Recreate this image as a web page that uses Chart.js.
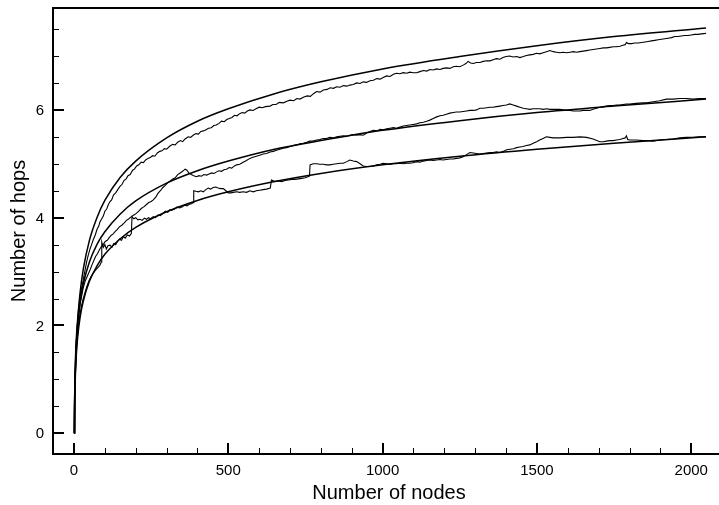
<!DOCTYPE html>
<html><head><meta charset="utf-8">
<script src="https://cdn.jsdelivr.net/npm/chart.js@4.4.0/dist/chart.umd.min.js"></script>
<style>html,body{margin:0;padding:0;background:#fff}</style>
</head><body>
<canvas id="c" width="719" height="505"></canvas>
<script>
const xTickLabels = [0, 500, 1000, 1500, 2000];
const yTickLabels = [0, 2, 4, 6];
const xAxisTitle = 'Number of nodes';
const yAxisTitle = 'Number of hops';

// smooth curves at these node counts
const smoothX   = [1, 2, 3, 5, 8, 12, 20, 30, 50, 75, 100, 150, 200, 300, 400, 500, 650, 800, 1000, 1250, 1500, 1750, 2048];
const smoothTop = [0, 0.62, 0.97, 1.42, 1.8, 2.12, 2.62, 3.04, 3.58, 4.01, 4.32, 4.75, 5.05, 5.48, 5.79, 6.02, 6.30, 6.52, 6.76, 6.99, 7.19, 7.36, 7.52];
const smoothMid = [0, 0.56, 0.89, 1.31, 1.69, 2.02, 2.44, 2.77, 3.18, 3.51, 3.74, 4.07, 4.31, 4.64, 4.87, 5.05, 5.27, 5.43, 5.62, 5.80, 5.95, 6.07, 6.20];
const smoothLow = [0, 0.50, 0.79, 1.16, 1.50, 1.79, 2.16, 2.45, 2.82, 3.11, 3.32, 3.61, 3.82, 4.11, 4.32, 4.48, 4.67, 4.82, 4.98, 5.14, 5.27, 5.38, 5.50];

// noisy curves: [nodes, hops]
const simTop = [[1,0],[2,0.55],[3,0.9],[5,1.35],[7,1.65],[10,1.95],[14,2.25],[20,2.55],[25,2.7],[30,2.85],[35,3.0],[41,3.18],[46,3.3],[52,3.42],[57,3.5],[63,3.6],[69,3.68],[75,3.79],[80,3.84],[84,3.92],[90,3.98],[95,4.03],[100,4.12],[106,4.16],[111,4.24],[117,4.3],[122,4.33],[128,4.42],[135,4.46],[142,4.52],[149,4.58],[156,4.62],[162,4.69],[169,4.72],[175,4.78],[182,4.8],[190,4.88],[196,4.9],[203,4.96],[210,4.98],[218,5.03],[225,5.02],[232,5.07],[240,5.1],[248,5.12],[255,5.15],[262,5.14],[270,5.2],[278,5.23],[285,5.24],[293,5.28],[300,5.27],[311,5.33],[320,5.36],[328,5.35],[336,5.4],[345,5.43],[352,5.41],[360,5.46],[370,5.5],[378,5.49],[386,5.53],[395,5.56],[403,5.55],[411,5.6],[419,5.61],[428,5.63],[436,5.66],[445,5.67],[453,5.71],[461,5.72],[470,5.75],[478,5.79],[487,5.78],[495,5.82],[503,5.84],[512,5.86],[520,5.9],[528,5.89],[537,5.93],[545,5.95],[553,5.94],[562,5.98],[570,6.0],[580,5.99],[590,6.02],[600,6.05],[610,6.04],[620,6.06],[635,6.07],[645,6.1],[655,6.1],[665,6.14],[678,6.13],[690,6.16],[700,6.18],[712,6.17],[722,6.21],[732,6.2],[745,6.24],[756,6.26],[766,6.25],[776,6.3],[786,6.34],[797,6.33],[808,6.37],[820,6.38],[830,6.41],[841,6.4],[851,6.43],[862,6.42],[873,6.45],[884,6.44],[894,6.46],[905,6.47],[916,6.5],[927,6.49],[937,6.52],[948,6.51],[959,6.54],[970,6.55],[981,6.58],[992,6.57],[1002,6.6],[1013,6.63],[1024,6.62],[1035,6.66],[1045,6.68],[1056,6.67],[1067,6.69],[1078,6.68],[1088,6.7],[1099,6.69],[1110,6.69],[1121,6.71],[1132,6.73],[1143,6.72],[1153,6.75],[1164,6.74],[1175,6.76],[1186,6.75],[1196,6.77],[1207,6.78],[1218,6.77],[1229,6.8],[1239,6.81],[1250,6.8],[1261,6.83],[1270,6.86],[1277,6.9],[1285,6.87],[1294,6.86],[1304,6.88],[1315,6.88],[1326,6.9],[1337,6.91],[1348,6.91],[1358,6.93],[1369,6.95],[1380,6.94],[1390,6.97],[1400,6.99],[1412,7.0],[1423,6.98],[1434,6.99],[1445,6.97],[1456,6.99],[1466,7.01],[1477,7.02],[1488,7.03],[1499,7.05],[1509,7.04],[1520,7.06],[1531,7.08],[1542,7.1],[1553,7.08],[1563,7.07],[1574,7.06],[1585,7.07],[1596,7.06],[1607,7.07],[1618,7.08],[1628,7.07],[1639,7.08],[1650,7.09],[1661,7.1],[1671,7.11],[1682,7.12],[1693,7.13],[1704,7.14],[1715,7.15],[1725,7.15],[1736,7.16],[1747,7.17],[1758,7.17],[1769,7.18],[1779,7.2],[1786,7.21],[1790,7.25],[1796,7.23],[1807,7.23],[1817,7.24],[1828,7.24],[1839,7.25],[1850,7.26],[1860,7.27],[1871,7.28],[1882,7.29],[1893,7.3],[1904,7.31],[1914,7.32],[1925,7.33],[1936,7.34],[1947,7.36],[1957,7.36],[1968,7.37],[1979,7.38],[1990,7.38],[2000,7.39],[2011,7.4],[2022,7.4],[2033,7.41],[2048,7.42]];

const simMid = [[1,0],[2,0.5],[3,0.85],[5,1.25],[7,1.55],[10,1.85],[14,2.1],[20,2.4],[25,2.55],[30,2.7],[36,2.82],[42,2.9],[48,2.98],[52,3.03],[58,3.12],[64,3.2],[70,3.28],[76,3.33],[82,3.4],[88,3.46],[95,3.5],[101,3.56],[108,3.58],[114,3.63],[120,3.67],[127,3.7],[133,3.74],[140,3.78],[147,3.83],[155,3.86],[162,3.9],[170,3.95],[178,3.98],[186,4.02],[194,4.05],[202,4.08],[210,4.12],[218,4.17],[226,4.2],[234,4.24],[242,4.28],[250,4.3],[257,4.33],[265,4.38],[272,4.45],[280,4.5],[288,4.56],[296,4.6],[304,4.65],[312,4.68],[320,4.72],[328,4.74],[336,4.8],[344,4.83],[352,4.86],[360,4.9],[366,4.88],[372,4.83],[380,4.8],[388,4.78],[397,4.76],[405,4.78],[413,4.77],[421,4.8],[430,4.79],[438,4.81],[446,4.83],[454,4.82],[462,4.85],[470,4.87],[478,4.86],[486,4.89],[494,4.9],[503,4.93],[511,4.92],[520,4.96],[527,4.98],[537,4.99],[548,5.03],[559,5.06],[570,5.1],[580,5.12],[591,5.14],[602,5.16],[613,5.18],[624,5.19],[635,5.22],[646,5.23],[656,5.25],[667,5.27],[678,5.29],[689,5.3],[700,5.32],[710,5.34],[721,5.35],[732,5.37],[743,5.38],[754,5.4],[764,5.42],[775,5.42],[786,5.44],[797,5.45],[808,5.47],[818,5.47],[829,5.49],[840,5.48],[851,5.5],[862,5.51],[873,5.52],[884,5.51],[894,5.53],[905,5.54],[916,5.53],[927,5.54],[937,5.53],[948,5.57],[959,5.6],[970,5.62],[981,5.61],[992,5.64],[1002,5.63],[1013,5.65],[1024,5.66],[1035,5.67],[1045,5.66],[1056,5.68],[1067,5.7],[1078,5.71],[1088,5.72],[1099,5.73],[1110,5.74],[1121,5.76],[1132,5.77],[1143,5.79],[1153,5.81],[1164,5.84],[1175,5.87],[1186,5.89],[1196,5.9],[1207,5.92],[1218,5.94],[1229,5.95],[1239,5.96],[1250,5.96],[1261,5.97],[1272,5.98],[1283,5.99],[1294,5.99],[1304,6.0],[1315,6.03],[1326,6.03],[1337,6.04],[1348,6.05],[1358,6.05],[1369,6.06],[1380,6.07],[1390,6.08],[1401,6.09],[1412,6.11],[1423,6.09],[1434,6.07],[1445,6.05],[1456,6.03],[1466,6.02],[1477,6.01],[1488,6.02],[1499,6.02],[1509,6.02],[1520,6.01],[1531,6.02],[1542,6.01],[1553,6.01],[1563,6.01],[1574,6.01],[1585,6.0],[1596,5.99],[1607,5.99],[1618,5.98],[1628,5.98],[1639,5.98],[1650,5.99],[1661,5.99],[1671,5.99],[1682,6.01],[1693,6.03],[1704,6.05],[1715,6.06],[1725,6.07],[1736,6.08],[1747,6.08],[1758,6.09],[1769,6.09],[1779,6.1],[1790,6.11],[1800,6.11],[1822,6.12],[1844,6.13],[1855,6.13],[1877,6.15],[1898,6.17],[1920,6.2],[1941,6.2],[1963,6.21],[1984,6.21],[2006,6.2],[2027,6.21],[2048,6.21]];

const simLow = [[1,0],[2,0.45],[3,0.78],[5,1.15],[7,1.42],[10,1.72],[14,1.98],[20,2.22],[25,2.38],[30,2.5],[36,2.62],[42,2.73],[48,2.82],[54,2.9],[60,2.95],[66,3.0],[72,3.04],[78,3.08],[84,3.12],[89,3.18],[90,3.55],[95,3.45],[100,3.5],[105,3.42],[110,3.48],[117,3.49],[123,3.45],[129,3.52],[135,3.5],[141,3.56],[147,3.6],[154,3.58],[160,3.65],[166,3.62],[173,3.68],[180,3.66],[186,3.71],[188,4.02],[194,3.98],[200,4.0],[207,3.96],[214,3.97],[221,3.95],[228,3.99],[235,3.97],[241,4.0],[248,3.98],[257,4.02],[264,4.0],[272,4.05],[280,4.04],[288,4.08],[296,4.12],[304,4.1],[311,4.15],[318,4.14],[326,4.16],[334,4.2],[342,4.18],[350,4.2],[358,4.23],[366,4.22],[374,4.25],[381,4.26],[386,4.28],[388,4.5],[395,4.49],[403,4.48],[411,4.5],[419,4.48],[427,4.52],[435,4.55],[443,4.53],[451,4.56],[459,4.57],[467,4.55],[475,4.54],[484,4.54],[492,4.5],[500,4.46],[508,4.46],[516,4.47],[527,4.48],[537,4.47],[548,4.48],[559,4.47],[570,4.5],[581,4.48],[591,4.5],[602,4.51],[613,4.52],[624,4.53],[636,4.55],[640,4.7],[651,4.67],[662,4.68],[673,4.67],[684,4.69],[695,4.7],[705,4.71],[716,4.71],[727,4.72],[738,4.73],[749,4.74],[758,4.76],[763,4.77],[765,4.98],[775,5.0],[786,5.0],[797,4.99],[808,4.99],[818,4.98],[829,4.98],[840,4.99],[851,5.0],[862,5.01],[873,5.01],[884,5.04],[894,5.07],[905,5.05],[916,5.04],[927,5.0],[937,4.96],[948,4.95],[959,4.95],[970,4.96],[981,4.98],[992,4.99],[1002,5.01],[1013,5.0],[1024,4.99],[1035,5.0],[1045,5.0],[1056,5.01],[1067,5.0],[1078,5.01],[1088,5.01],[1099,5.02],[1110,5.04],[1121,5.03],[1132,5.05],[1143,5.06],[1153,5.07],[1164,5.06],[1175,5.07],[1186,5.08],[1196,5.07],[1207,5.08],[1218,5.09],[1229,5.09],[1239,5.1],[1250,5.11],[1261,5.13],[1272,5.17],[1283,5.21],[1294,5.2],[1304,5.19],[1315,5.18],[1326,5.19],[1337,5.2],[1348,5.21],[1358,5.21],[1369,5.22],[1380,5.21],[1391,5.23],[1402,5.26],[1413,5.27],[1424,5.28],[1434,5.3],[1445,5.31],[1455,5.32],[1466,5.34],[1477,5.35],[1488,5.38],[1499,5.41],[1509,5.44],[1520,5.47],[1531,5.5],[1542,5.49],[1553,5.48],[1563,5.48],[1574,5.48],[1596,5.49],[1618,5.49],[1639,5.5],[1661,5.49],[1682,5.46],[1704,5.41],[1715,5.41],[1725,5.42],[1736,5.43],[1747,5.43],[1758,5.44],[1769,5.45],[1779,5.47],[1786,5.48],[1790,5.52],[1794,5.45],[1800,5.44],[1822,5.44],[1844,5.43],[1855,5.43],[1877,5.42],[1898,5.44],[1920,5.45],[1941,5.46],[1963,5.48],[1984,5.49],[2006,5.49],[2027,5.5],[2048,5.5]];

const pts = (xs, ys) => xs.map((v, i) => ({x: v, y: ys[i]}));
const pairs = arr => arr.map(p => ({x: p[0], y: p[1]}));
const FONT = "'Liberation Sans', Arial, Helvetica, sans-serif";

const framePlugin = {
  id: 'frame',
  afterDraw(chart) {
    const {ctx, chartArea: a, scales: {x, y}} = chart;
    ctx.save();
    ctx.strokeStyle = '#000';
    ctx.fillStyle = '#000';
    ctx.lineWidth = 2;
    ctx.beginPath();
    ctx.moveTo(a.right, a.top); ctx.lineTo(a.left, a.top);
    ctx.lineTo(a.left, a.bottom); ctx.lineTo(a.right, a.bottom);
    ctx.stroke();
    for (let v = 0; v <= x.max; v += 100) {
      const major = xTickLabels.includes(v);
      const px = Math.round(x.getPixelForValue(v)) + (major ? 0 : 0.5);
      ctx.lineWidth = major ? 2 : 1;
      ctx.beginPath();
      ctx.moveTo(px, a.bottom);
      ctx.lineTo(px, a.bottom - (major ? 11 : 6));
      ctx.stroke();
    }
    for (let v = 0; v <= y.max; v += 0.5) {
      const major = yTickLabels.includes(v);
      const py = Math.round(y.getPixelForValue(v)) + (major ? 0 : 0.5);
      ctx.lineWidth = major ? 2 : 1;
      ctx.beginPath();
      ctx.moveTo(a.left, py);
      ctx.lineTo(a.left + (major ? 11 : 6), py);
      ctx.stroke();
    }
    ctx.font = '15px ' + FONT;
    ctx.textAlign = 'center';
    ctx.textBaseline = 'middle';
    xTickLabels.forEach(v => ctx.fillText(String(v), x.getPixelForValue(v), 471));
    ctx.textAlign = 'right';
    yTickLabels.forEach(v => ctx.fillText(String(v), 44, y.getPixelForValue(v) + 1));
    ctx.font = '20px ' + FONT;
    ctx.textAlign = 'center';
    ctx.fillText(xAxisTitle, (a.left + a.right) / 2 + 3, 493);
    ctx.translate(19, (a.top + a.bottom) / 2);
    ctx.rotate(-Math.PI / 2);
    ctx.fillText(yAxisTitle, 0, 0);
    ctx.restore();
  }
};

const smoothStyle = {borderColor: '#000', borderWidth: 1.5, pointRadius: 0, showLine: true, fill: false, cubicInterpolationMode: 'monotone'};
const noisyStyle = {borderColor: '#000', borderWidth: 1.1, pointRadius: 0, showLine: true, fill: false, tension: 0};

new Chart(document.getElementById('c'), {
  type: 'scatter',
  data: {
    datasets: [
      Object.assign({label: 'fit top', data: pts(smoothX, smoothTop)}, smoothStyle),
      Object.assign({label: 'fit mid', data: pts(smoothX, smoothMid)}, smoothStyle),
      Object.assign({label: 'fit low', data: pts(smoothX, smoothLow)}, smoothStyle),
      Object.assign({label: 'sim top', data: pairs(simTop)}, noisyStyle),
      Object.assign({label: 'sim mid', data: pairs(simMid)}, noisyStyle),
      Object.assign({label: 'sim low', data: pairs(simLow)}, noisyStyle)
    ]
  },
  options: {
    responsive: false,
    animation: false,
    devicePixelRatio: 1,
    layout: {padding: {left: 53, right: 0, top: 8, bottom: 51}},
    plugins: {legend: {display: false}, tooltip: {enabled: false}},
    scales: {
      x: {type: 'linear', min: -68, max: 2090, display: false},
      y: {type: 'linear', min: -0.384, max: 7.89, display: false}
    }
  },
  plugins: [framePlugin]
});
</script>
</body></html>
